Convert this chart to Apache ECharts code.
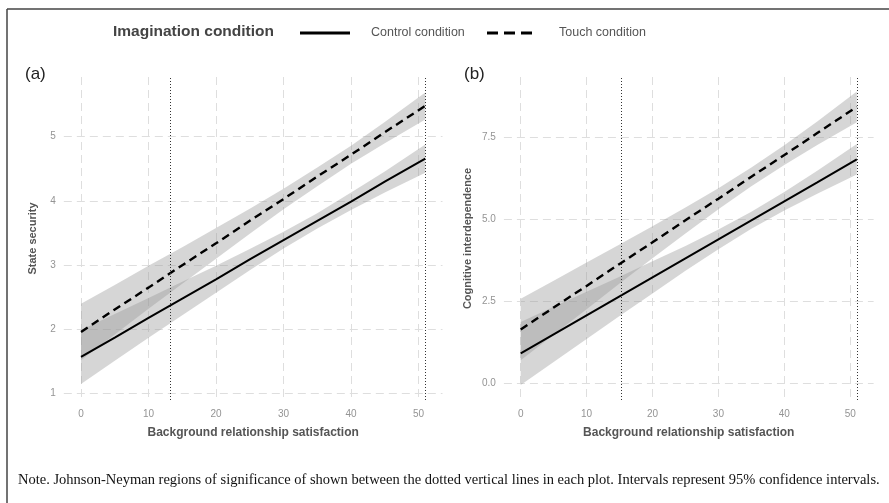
<!DOCTYPE html>
<html><head><meta charset="utf-8">
<script src="https://cdn.jsdelivr.net/npm/echarts@6/dist/echarts.min.js"></script>
<style>html,body{margin:0;padding:0;background:#fff}#c{width:889px;height:503px}</style>
</head><body><div id="c"></div>
<script>
// ---- data ----
const xPoints = [0, 5, 10, 15, 20, 25, 30, 35, 40, 45, 51];
const xTicks = [0, 10, 20, 30, 40, 50];

// (a) State security
const secControlFit   = [1.57, 1.87, 2.18, 2.48, 2.78, 3.09, 3.39, 3.69, 3.99, 4.30, 4.66];
const secControlLower = [1.15, 1.51, 1.87, 2.22, 2.57, 2.92, 3.26, 3.57, 3.86, 4.13, 4.44];
const secControlUpper = [1.99, 2.24, 2.49, 2.74, 2.99, 3.25, 3.52, 3.81, 4.13, 4.46, 4.88];
const secTouchFit     = [1.96, 2.31, 2.65, 3.00, 3.34, 3.69, 4.03, 4.38, 4.72, 5.07, 5.48];
const secTouchLower   = [1.52, 1.92, 2.32, 2.71, 3.10, 3.49, 3.87, 4.23, 4.58, 4.90, 5.27];
const secTouchUpper   = [2.40, 2.69, 2.99, 3.28, 3.58, 3.88, 4.19, 4.52, 4.86, 5.23, 5.69];
const secYTicks = [1, 2, 3, 4, 5];
const secJN = [13.2, 51];

// (b) Cognitive interdependence
const cogControlFit   = [0.92, 1.50, 2.08, 2.66, 3.24, 3.82, 4.40, 4.98, 5.56, 6.14, 6.84];
const cogControlLower = [-0.04, 0.66, 1.36, 2.06, 2.75, 3.44, 4.10, 4.72, 5.28, 5.79, 6.38];
const cogControlUpper = [1.88, 2.34, 2.80, 3.26, 3.73, 4.20, 4.70, 5.24, 5.84, 6.49, 7.31];
const cogTouchFit     = [1.65, 2.32, 2.98, 3.65, 4.31, 4.98, 5.64, 6.31, 6.97, 7.64, 8.44];
const cogTouchLower   = [0.71, 1.49, 2.27, 3.05, 3.82, 4.58, 5.32, 6.02, 6.67, 7.28, 7.97];
const cogTouchUpper   = [2.59, 3.14, 3.69, 4.24, 4.80, 5.37, 5.96, 6.59, 7.27, 7.99, 8.91];
const cogYTicks = [0, 2.5, 5, 7.5];
const cogJN = [15.3, 51];

const legendTitle = 'Imagination condition';
const seriesNames = ['Control condition', 'Touch condition'];
const xTitle = 'Background relationship satisfaction';
const yTitles = ['State security', 'Cognitive interdependence'];
const panelLabels = ['(a)', '(b)'];
const noteText = 'Note. Johnson-Neyman regions of significance of shown between the dotted vertical lines in each plot. Intervals represent 95% confidence intervals.';

// ---- chart ----
const SANS = '"Liberation Sans", Arial, sans-serif';
const gridLine = { show: true, lineStyle: { color: '#dedede', width: 1, type: [8, 5] } };

function xAxisDef(gi) {
  return {
    type: 'value', gridIndex: gi, min: -2.55, max: 53.55,
    axisLine: { show: false },
    axisTick: { show: false, customValues: xTicks },
    axisLabel: { customValues: xTicks, color: '#949494', fontSize: 10, fontFamily: SANS, margin: 9 },
    splitLine: gridLine,
    name: xTitle, nameLocation: 'middle', nameGap: 27,
    nameTextStyle: { color: '#555', fontSize: 12, fontWeight: 'bold', fontFamily: SANS }
  };
}
function yAxisDef(gi, min, max, ticks, fmt, title, gap) {
  return {
    type: 'value', gridIndex: gi, min: min, max: max,
    axisLine: { show: false },
    axisTick: { show: false, customValues: ticks },
    axisLabel: { customValues: ticks, color: '#949494', fontSize: 10, fontFamily: SANS, margin: 8,
                 formatter: fmt },
    splitLine: gridLine,
    name: title, nameLocation: 'middle', nameGap: gap,
    nameTextStyle: { color: '#555', fontSize: 11, fontWeight: 'bold', fontFamily: SANS }
  };
}
function band(gi, lower, upper) {
  return {
    type: 'custom', xAxisIndex: gi, yAxisIndex: gi, silent: true, z: 1,
    data: xPoints.map((x, i) => [x, lower[i], upper[i]]),
    encode: { x: 0, y: [1, 2] },
    clip: true,
    renderItem: function (params, api) {
      if (params.dataIndex !== 0) return;
      const pts = [];
      for (let i = 0; i < xPoints.length; i++) pts.push(api.coord([xPoints[i], upper[i]]));
      for (let i = xPoints.length - 1; i >= 0; i--) pts.push(api.coord([xPoints[i], lower[i]]));
      return { type: 'polygon', shape: { points: pts }, style: { fill: 'rgba(153,153,153,0.4)' } };
    }
  };
}
function fitLine(gi, name, fit, dashed, jn) {
  const s = {
    type: 'line', name: name, xAxisIndex: gi, yAxisIndex: gi, z: 3,
    data: xPoints.map((x, i) => [x, fit[i]]),
    symbol: 'none', silent: true,
    lineStyle: { color: '#000', width: dashed ? 2.4 : 2, type: dashed ? [8, 5] : 'solid' }
  };
  if (jn) {
    s.markLine = {
      silent: true, symbol: ['none', 'none'], label: { show: false },
      lineStyle: { color: '#333', width: 1, type: [1, 2] },
      data: jn.map(v => ({ xAxis: v }))
    };
  }
  return s;
}

const chart = echarts.init(document.getElementById('c'), null, { renderer: 'canvas' });
chart.setOption({
  animation: false,
  backgroundColor: '#fff',
  grid: [
    { left: 63.8, top: 77, width: 378.7, height: 323 },
    { left: 503.9, top: 77, width: 369.7, height: 323 }
  ],
  xAxis: [xAxisDef(0), xAxisDef(1)],
  yAxis: [
    yAxisDef(0, 0.9, 5.93, secYTicks, v => String(v), yTitles[0], 25),
    yAxisDef(1, -0.5, 9.35, cogYTicks, v => v.toFixed(1), yTitles[1], 30)
  ],
  series: [
    band(0, secControlLower, secControlUpper),
    band(0, secTouchLower, secTouchUpper),
    fitLine(0, seriesNames[0], secControlFit, false, secJN),
    fitLine(0, seriesNames[1], secTouchFit, true, null),
    band(1, cogControlLower, cogControlUpper),
    band(1, cogTouchLower, cogTouchUpper),
    fitLine(1, seriesNames[0], cogControlFit, false, cogJN),
    fitLine(1, seriesNames[1], cogTouchFit, true, null)
  ],
  graphic: [
    { type: 'line', shape: { x1: 7, y1: 9, x2: 889, y2: 9 }, style: { stroke: '#444', lineWidth: 1.5 } },
    { type: 'line', shape: { x1: 7, y1: 9, x2: 7, y2: 503 }, style: { stroke: '#444', lineWidth: 1.5 } },
    { type: 'text', left: 113, top: 24, style: { text: legendTitle, fill: '#444', font: 'bold 15.5px ' + SANS } },
    { type: 'line', shape: { x1: 300, y1: 33, x2: 350, y2: 33 }, style: { stroke: '#000', lineWidth: 3 } },
    { type: 'text', left: 371, top: 26, style: { text: seriesNames[0], fill: '#555', font: '12.5px ' + SANS } },
    { type: 'line', shape: { x1: 487, y1: 33, x2: 537, y2: 33 }, style: { stroke: '#000', lineWidth: 3, lineDash: [11, 6] } },
    { type: 'text', left: 559, top: 26, style: { text: seriesNames[1], fill: '#555', font: '12.5px ' + SANS } },
    { type: 'text', left: 25, top: 66, style: { text: panelLabels[0], fill: '#222', font: '17px ' + SANS } },
    { type: 'text', left: 464, top: 66, style: { text: panelLabels[1], fill: '#222', font: '17px ' + SANS } },
    { type: 'text', left: 18, top: 473, style: { text: noteText, fill: '#111', font: '14.5px "Liberation Serif", "Times New Roman", serif' } }
  ]
});
</script></body></html>
